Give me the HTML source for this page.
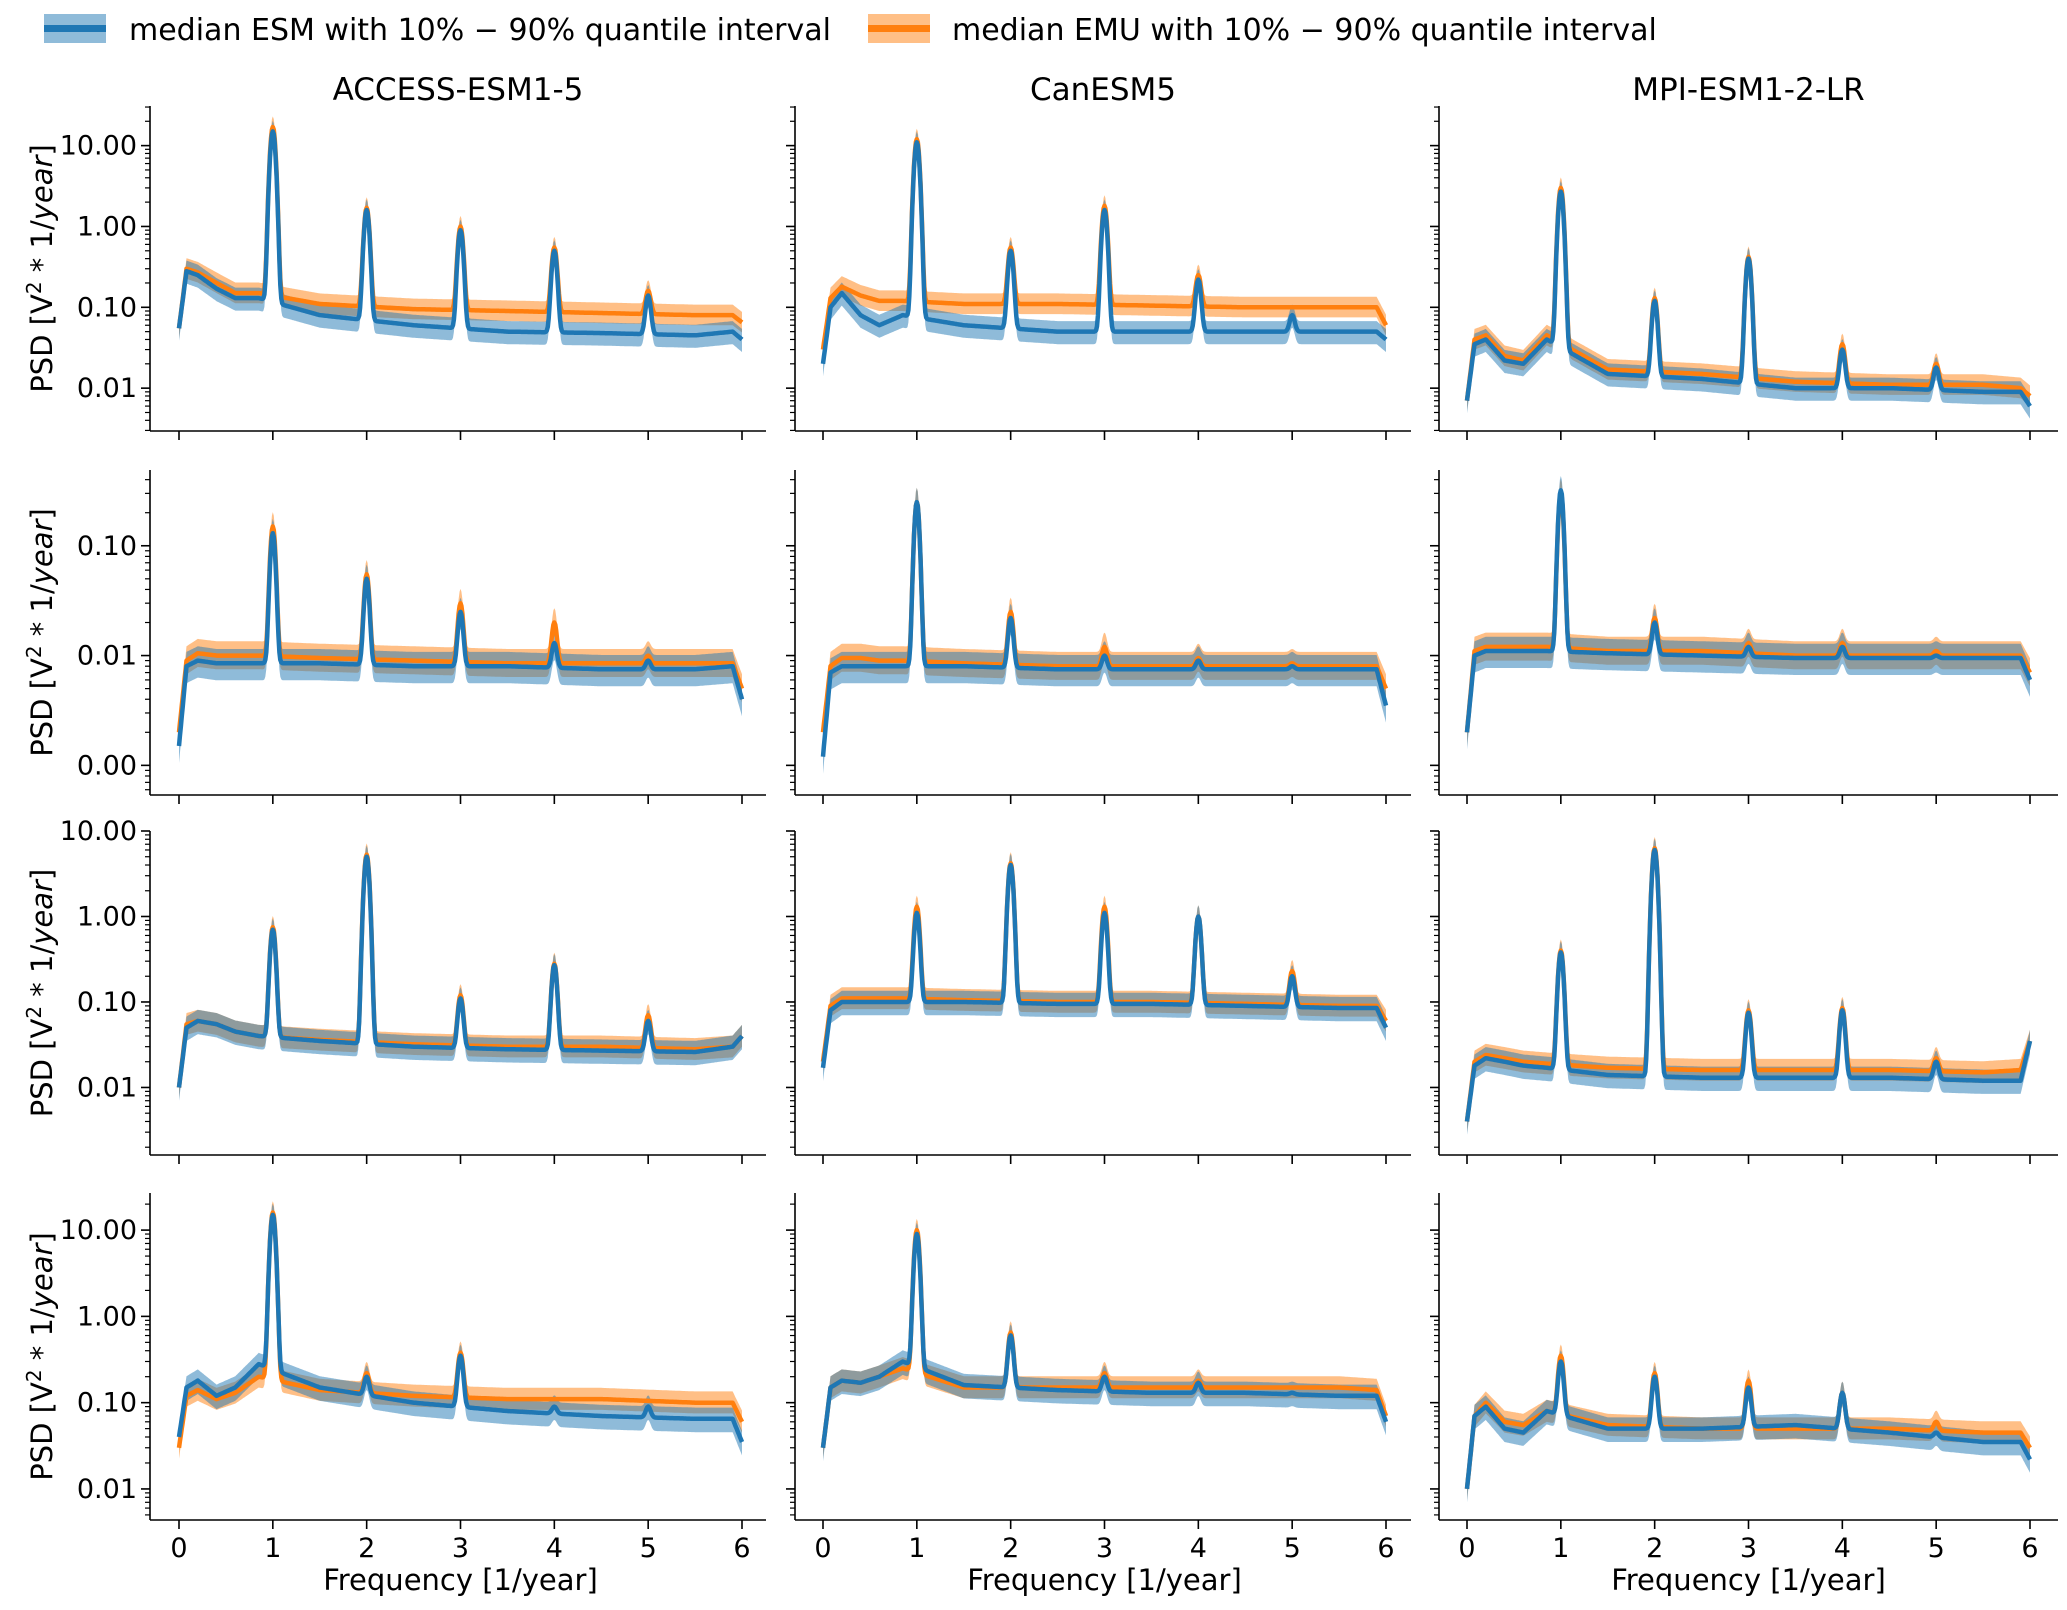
<!DOCTYPE html>
<html><head><meta charset="utf-8"><style>
body{margin:0;background:#fff}
svg text{font-family:"DejaVu Sans","Liberation Sans",sans-serif;fill:#000}
</style></head><body>
<svg id="fig" width="2067" height="1605" viewBox="0 0 2067 1605" xmlns="http://www.w3.org/2000/svg">
<g>
 <rect x="44" y="14" width="62" height="29" fill="#1f77b4" opacity="0.5"/>
 <rect x="44" y="25" width="62" height="7" fill="#1f77b4"/>
 <text x="129" y="40" font-size="30">median ESM with 10% − 90% quantile interval</text>
 <rect x="868" y="14" width="62" height="29" fill="#ff7f0e" opacity="0.5"/>
 <rect x="868" y="25" width="62" height="7" fill="#ff7f0e"/>
 <text x="952" y="40" font-size="30">median EMU with 10% − 90% quantile interval</text>
</g>
<g id="panels"></g>
</svg>
<script>
const models = ["ACCESS-ESM1-5","CanESM5","MPI-ESM1-2-LR"];
const knotFreq = [0,0.08,0.2,0.4,0.6,0.85,1.5,2.5,3.5,4.5,5.5,5.9,6];
const xTicks = [0,1,2,3,4,5,6];
const peakFreq = [1,2,3,4,5];
const esmBase = [
 [[0.055,0.28,0.25,0.17,0.13,0.13,0.08,0.06,0.05,0.048,0.045,0.05,0.04],
  [0.02,0.1,0.15,0.08,0.06,0.08,0.06,0.05,0.05,0.05,0.05,0.05,0.04],
  [0.007,0.035,0.04,0.022,0.02,0.04,0.015,0.013,0.01,0.01,0.009,0.009,0.006]],
 [[0.0015,0.008,0.009,0.0085,0.0085,0.0085,0.0085,0.008,0.008,0.0075,0.0075,0.008,0.004],
  [0.0012,0.007,0.008,0.008,0.008,0.008,0.008,0.0075,0.0075,0.0075,0.0075,0.0075,0.0035],
  [0.002,0.01,0.011,0.011,0.011,0.011,0.0105,0.01,0.0095,0.0095,0.0095,0.0095,0.006]],
 [[0.01,0.05,0.06,0.055,0.045,0.04,0.035,0.03,0.028,0.027,0.026,0.03,0.04],
  [0.017,0.08,0.1,0.1,0.1,0.1,0.1,0.095,0.095,0.09,0.085,0.085,0.05],
  [0.004,0.018,0.022,0.02,0.018,0.017,0.014,0.013,0.013,0.013,0.012,0.012,0.035]],
 [[0.04,0.15,0.18,0.12,0.15,0.28,0.15,0.1,0.08,0.07,0.065,0.065,0.035],
  [0.03,0.15,0.18,0.17,0.2,0.3,0.16,0.14,0.13,0.13,0.12,0.12,0.06],
  [0.01,0.07,0.09,0.05,0.045,0.08,0.05,0.05,0.055,0.045,0.035,0.035,0.022]]];
const emuBase = [
 [[0.055,0.3,0.27,0.2,0.15,0.15,0.11,0.095,0.09,0.085,0.08,0.08,0.065],
  [0.03,0.13,0.18,0.14,0.12,0.12,0.11,0.11,0.105,0.1,0.1,0.1,0.06],
  [0.007,0.04,0.045,0.025,0.022,0.045,0.017,0.015,0.012,0.011,0.011,0.01,0.008]],
 [[0.002,0.009,0.0105,0.01,0.01,0.01,0.0095,0.009,0.0085,0.0085,0.0085,0.0085,0.005],
  [0.002,0.008,0.0095,0.0095,0.009,0.009,0.0085,0.008,0.008,0.008,0.008,0.008,0.005],
  [0.002,0.011,0.012,0.012,0.012,0.012,0.011,0.011,0.01,0.01,0.01,0.01,0.007]],
 [[0.01,0.055,0.06,0.055,0.045,0.04,0.036,0.032,0.03,0.03,0.028,0.03,0.04],
  [0.02,0.09,0.11,0.11,0.11,0.11,0.105,0.1,0.1,0.095,0.09,0.09,0.06],
  [0.004,0.02,0.024,0.022,0.02,0.019,0.017,0.016,0.016,0.016,0.015,0.016,0.035]],
 [[0.03,0.12,0.14,0.11,0.13,0.2,0.14,0.12,0.11,0.11,0.1,0.1,0.06],
  [0.03,0.15,0.18,0.17,0.2,0.25,0.15,0.15,0.15,0.15,0.15,0.14,0.07],
  [0.01,0.07,0.1,0.06,0.055,0.08,0.055,0.05,0.05,0.05,0.045,0.045,0.03]]];
const esmPeaks = [
 [[15,1.6,0.9,0.5,0.14],[11,0.5,1.6,0.22,0.08],[2.7,0.12,0.4,0.03,0.018]],
 [[0.13,0.05,0.025,0.013,0.009],[0.25,0.022,0.01,0.009,0.008],[0.32,0.02,0.012,0.012,0.01]],
 [[0.7,5,0.11,0.27,0.06],[1.1,4,1.1,1,0.2],[0.38,6,0.075,0.08,0.02]],
 [[15,0.2,0.35,0.09,0.09],[9,0.6,0.2,0.17,0.13],[0.3,0.2,0.15,0.13,0.045]]];
const emuPeaks = [
 [[17,1.7,1.0,0.55,0.16],[12,0.55,1.8,0.25,0.1],[3,0.13,0.42,0.035,0.02]],
 [[0.15,0.055,0.03,0.02,0.01],[0.25,0.025,0.012,0.0095,0.0085],[0.3,0.022,0.013,0.013,0.011]],
 [[0.75,5.3,0.12,0.28,0.07],[1.3,4.2,1.3,1.0,0.23],[0.4,6.3,0.08,0.085,0.022]],
 [[16,0.22,0.38,0.1,0.1],[10,0.65,0.22,0.18,0.15],[0.35,0.22,0.18,0.13,0.06]]];
const bandLo = [0.7,0.75], bandHi = [1.35,1.35];
const rowTickVals = [[10,1,0.1,0.01],[0.1,0.01,0.001],[10,1,0.1,0.01],[10,1,0.1,0.01]];
const rowTickLabels = [["10.00","1.00","0.10","0.01"],["0.10","0.01","0.00"],["10.00","1.00","0.10","0.01"],["10.00","1.00","0.10","0.01"]];

const colX = [[150,766],[795,1411],[1439,2058]];
const colTick = [[179,742],[823,1386],[1467,2030]];
const rowY = [[106,431],[470,795],[831,1155],[1193,1520]];
const rowLog = [[1.49,-2.53],[-0.31,-3.27],[1.0,-2.79],[1.43,-2.36]];
const NS="http://www.w3.org/2000/svg";
const root=document.getElementById('panels');
function mk(t,a,p){const e=document.createElementNS(NS,t);for(const k in a)e.setAttribute(k,a[k]);(p||root).appendChild(e);return e;}
function interp(f,vals){for(let i=0;i<knotFreq.length-1;i++){if(f<=knotFreq[i+1]){const t=(f-knotFreq[i])/(knotFreq[i+1]-knotFreq[i]);return Math.pow(10,Math.log10(vals[i])*(1-t)+Math.log10(vals[i+1])*t);}}return vals[vals.length-1];}
function series(base,peaks){const out=[];for(let i=0;i<=600;i++){const f=i/100;let v=interp(f,base);for(let k=0;k<peakFreq.length;k++){const d=(f-peakFreq[k])/0.035;v=Math.max(v,v+(peaks[k]-v)*Math.exp(-d*d));}out.push([f,v]);}return out;}

for(let r=0;r<4;r++)for(let c=0;c<3;c++){
 const g=mk('g',{});
 
 
 const [x0,x1]=colX[c],[t0,t6]=colTick[c],[y0,y1]=rowY[r],[lt,lb]=rowLog[r];
 const sx=f=>t0+(t6-t0)*f/6, sy=v=>y0+(lt-Math.log10(v))/(lt-lb)*(y1-y0);
 const defs=[[emuBase[r][c],emuPeaks[r][c],'#ff7f0e',1,'emu'],[esmBase[r][c],esmPeaks[r][c],'#1f77b4',0,'esm']];
 const data=defs.map(d=>series(d[0],d[1]));
 defs.forEach((d,i)=>{const s=data[i];const lo=d[3]==1?bandLo[1]:bandLo[0],hi=d[3]==1?bandHi[1]:bandHi[0];
  let p=s.map((q,j)=>(j?'L':'M')+sx(q[0]).toFixed(1)+','+sy(q[1]*hi).toFixed(1)).join('');
  p+=s.slice().reverse().map(q=>'L'+sx(q[0]).toFixed(1)+','+sy(q[1]*lo).toFixed(1)).join('')+'Z';
  const e=mk('path',{d:p,fill:d[2],opacity:0.5,stroke:'none'},g);
  
  });
 defs.forEach((d,i)=>{const s=data[i];
  const e=mk('path',{d:s.map((q,j)=>(j?'L':'M')+sx(q[0]).toFixed(1)+','+sy(q[1]).toFixed(1)).join(''),fill:'none',stroke:d[2],'stroke-width':4.5,'stroke-linejoin':'round'},g);
  
  });
 const ax=mk('g',{},g);
 
 
 mk('line',{x1:x0,y1:y0,x2:x0,y2:y1,stroke:'#000','stroke-width':1.6},ax);
 mk('line',{x1:x0,y1:y1,x2:x1,y2:y1,stroke:'#000','stroke-width':1.6},ax);
 xTicks.forEach(t=>{mk('line',{x1:sx(t),y1:y1,x2:sx(t),y2:y1+9,stroke:'#000','stroke-width':1.6},ax);
  if(r==3){const e=mk('text',{x:sx(t),y:y1+37,'font-size':27,'text-anchor':'middle'},ax);e.textContent=t;
   
   }});
 for(let dec=Math.floor(lb);dec<=Math.ceil(lt);dec++)for(let m=1;m<10;m++){const v=m*Math.pow(10,dec);const L=Math.log10(v);if(L>lt||L<lb)continue;
  mk('line',{x1:x0,y1:sy(v),x2:x0-(m==1?9:5),y2:sy(v),stroke:'#000','stroke-width':m==1?1.6:1.2},ax);}
 if(c==0){rowTickVals[r].forEach((v,i)=>{const e=mk('text',{x:x0-13,y:sy(v)+9,'font-size':27,'text-anchor':'end'},ax);e.textContent=rowTickLabels[r][i];
   
   });
  const yl=mk('text',{x:0,y:0,'font-size':29,'text-anchor':'middle',transform:'translate(52,'+((y0+y1)/2)+') rotate(-90)'},ax);
  yl.innerHTML='PSD [V<tspan dy="-11" font-size="20">2</tspan><tspan dy="11"> * 1/</tspan><tspan font-style="italic">year</tspan>]';
  
  }
 if(r==0){const e=mk('text',{x:(x0+x1)/2,y:100,'font-size':31,'text-anchor':'middle'},ax);e.textContent=models[c];
  
  }
 if(r==3){const e=mk('text',{x:(t0+t6)/2,y:1590,'font-size':29,'text-anchor':'middle'},ax);e.textContent='Frequency [1/year]';
  
  }
}
</script>
</body></html>
